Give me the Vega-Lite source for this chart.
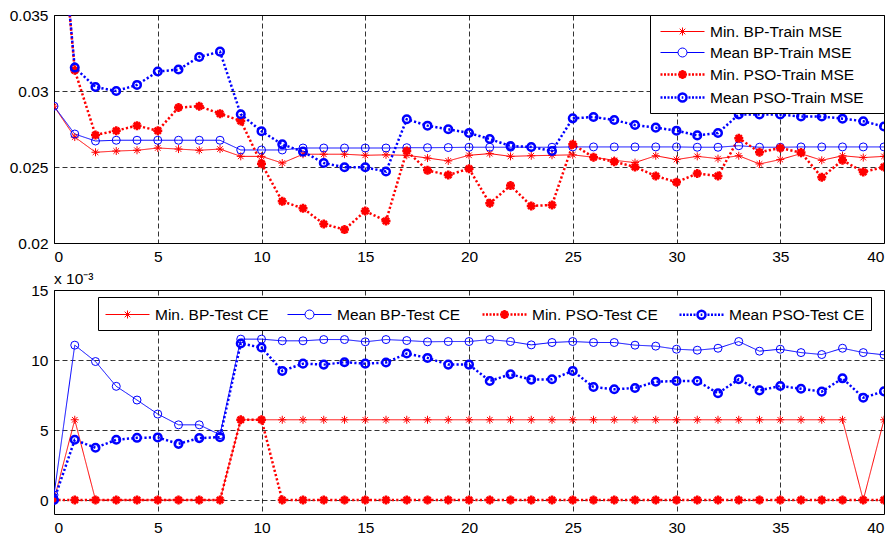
{
 "$schema": "https://vega.github.io/schema/vega-lite/v6.json",
 "background": "white",
 "padding": {"left": 8, "top": 7, "right": 4, "bottom": 4},
 "config": {
  "font": "Liberation Sans",
  "view": {"stroke": "black", "strokeWidth": 1},
  "axis": {"labelFont": "Liberation Sans", "labelFontSize": 15.5, "labelColor": "black", "ticks": false, "domain": false, "grid": true, "gridColor": "black", "gridDash": [5, 3], "gridOpacity": 0.8, "labelPadding": 6, "title": null},
  "legend": {"labelFont": "Liberation Sans", "labelFontSize": 15.5, "labelColor": "black", "labelLimit": 300, "strokeColor": "black", "fillColor": "white", "padding": 6, "rowPadding": 2, "symbolSize": 400, "symbolOffset": 15, "labelOffset": 16, "title": null}
 },
 "datasets": {
  "train": [
   {"epoch":0,"series":"Min. BP-Train MSE","value":0.029},{"epoch":1,"series":"Min. BP-Train MSE","value":0.02697},{"epoch":2,"series":"Min. BP-Train MSE","value":0.02597},{"epoch":3,"series":"Min. BP-Train MSE","value":0.02605},{"epoch":4,"series":"Min. BP-Train MSE","value":0.0261},{"epoch":5,"series":"Min. BP-Train MSE","value":0.02625},{"epoch":6,"series":"Min. BP-Train MSE","value":0.02618},{"epoch":7,"series":"Min. BP-Train MSE","value":0.0261},{"epoch":8,"series":"Min. BP-Train MSE","value":0.02618},{"epoch":9,"series":"Min. BP-Train MSE","value":0.0257},{"epoch":10,"series":"Min. BP-Train MSE","value":0.0257},{"epoch":11,"series":"Min. BP-Train MSE","value":0.02526},{"epoch":12,"series":"Min. BP-Train MSE","value":0.02584},{"epoch":13,"series":"Min. BP-Train MSE","value":0.02584},{"epoch":14,"series":"Min. BP-Train MSE","value":0.02584},{"epoch":15,"series":"Min. BP-Train MSE","value":0.02577},{"epoch":16,"series":"Min. BP-Train MSE","value":0.0258},{"epoch":17,"series":"Min. BP-Train MSE","value":0.02577},{"epoch":18,"series":"Min. BP-Train MSE","value":0.02559},{"epoch":19,"series":"Min. BP-Train MSE","value":0.0254},{"epoch":20,"series":"Min. BP-Train MSE","value":0.02577},{"epoch":21,"series":"Min. BP-Train MSE","value":0.02588},{"epoch":22,"series":"Min. BP-Train MSE","value":0.0257},{"epoch":23,"series":"Min. BP-Train MSE","value":0.02574},{"epoch":24,"series":"Min. BP-Train MSE","value":0.02577},{"epoch":25,"series":"Min. BP-Train MSE","value":0.0258},{"epoch":26,"series":"Min. BP-Train MSE","value":0.02564},{"epoch":27,"series":"Min. BP-Train MSE","value":0.02544},{"epoch":28,"series":"Min. BP-Train MSE","value":0.02529},{"epoch":29,"series":"Min. BP-Train MSE","value":0.02574},{"epoch":30,"series":"Min. BP-Train MSE","value":0.02549},{"epoch":31,"series":"Min. BP-Train MSE","value":0.0257},{"epoch":32,"series":"Min. BP-Train MSE","value":0.02555},{"epoch":33,"series":"Min. BP-Train MSE","value":0.02574},{"epoch":34,"series":"Min. BP-Train MSE","value":0.0252},{"epoch":35,"series":"Min. BP-Train MSE","value":0.02549},{"epoch":36,"series":"Min. BP-Train MSE","value":0.02588},{"epoch":37,"series":"Min. BP-Train MSE","value":0.02544},{"epoch":38,"series":"Min. BP-Train MSE","value":0.02574},{"epoch":39,"series":"Min. BP-Train MSE","value":0.02562},{"epoch":40,"series":"Min. BP-Train MSE","value":0.0257},
   {"epoch":0,"series":"Mean BP-Train MSE","value":0.029},{"epoch":1,"series":"Mean BP-Train MSE","value":0.02717},{"epoch":2,"series":"Mean BP-Train MSE","value":0.02671},{"epoch":3,"series":"Mean BP-Train MSE","value":0.02676},{"epoch":4,"series":"Mean BP-Train MSE","value":0.02676},{"epoch":5,"series":"Mean BP-Train MSE","value":0.02676},{"epoch":6,"series":"Mean BP-Train MSE","value":0.02676},{"epoch":7,"series":"Mean BP-Train MSE","value":0.02676},{"epoch":8,"series":"Mean BP-Train MSE","value":0.02676},{"epoch":9,"series":"Mean BP-Train MSE","value":0.02612},{"epoch":10,"series":"Mean BP-Train MSE","value":0.02612},{"epoch":11,"series":"Mean BP-Train MSE","value":0.02612},{"epoch":12,"series":"Mean BP-Train MSE","value":0.02625},{"epoch":13,"series":"Mean BP-Train MSE","value":0.02625},{"epoch":14,"series":"Mean BP-Train MSE","value":0.02625},{"epoch":15,"series":"Mean BP-Train MSE","value":0.02625},{"epoch":16,"series":"Mean BP-Train MSE","value":0.02625},{"epoch":17,"series":"Mean BP-Train MSE","value":0.02627},{"epoch":18,"series":"Mean BP-Train MSE","value":0.02627},{"epoch":19,"series":"Mean BP-Train MSE","value":0.02628},{"epoch":20,"series":"Mean BP-Train MSE","value":0.0263},{"epoch":21,"series":"Mean BP-Train MSE","value":0.0263},{"epoch":22,"series":"Mean BP-Train MSE","value":0.0263},{"epoch":23,"series":"Mean BP-Train MSE","value":0.0263},{"epoch":24,"series":"Mean BP-Train MSE","value":0.0263},{"epoch":25,"series":"Mean BP-Train MSE","value":0.02632},{"epoch":26,"series":"Mean BP-Train MSE","value":0.02632},{"epoch":27,"series":"Mean BP-Train MSE","value":0.02632},{"epoch":28,"series":"Mean BP-Train MSE","value":0.02632},{"epoch":29,"series":"Mean BP-Train MSE","value":0.02632},{"epoch":30,"series":"Mean BP-Train MSE","value":0.02632},{"epoch":31,"series":"Mean BP-Train MSE","value":0.0263},{"epoch":32,"series":"Mean BP-Train MSE","value":0.0263},{"epoch":33,"series":"Mean BP-Train MSE","value":0.0264},{"epoch":34,"series":"Mean BP-Train MSE","value":0.0263},{"epoch":35,"series":"Mean BP-Train MSE","value":0.0263},{"epoch":36,"series":"Mean BP-Train MSE","value":0.02632},{"epoch":37,"series":"Mean BP-Train MSE","value":0.02632},{"epoch":38,"series":"Mean BP-Train MSE","value":0.02632},{"epoch":39,"series":"Mean BP-Train MSE","value":0.02632},{"epoch":40,"series":"Mean BP-Train MSE","value":0.02632},
   {"epoch":0,"series":"Min. PSO-Train MSE","value":0.0465},{"epoch":1,"series":"Min. PSO-Train MSE","value":0.03136},{"epoch":2,"series":"Min. PSO-Train MSE","value":0.02711},{"epoch":3,"series":"Min. PSO-Train MSE","value":0.02739},{"epoch":4,"series":"Min. PSO-Train MSE","value":0.02772},{"epoch":5,"series":"Min. PSO-Train MSE","value":0.02739},{"epoch":6,"series":"Min. PSO-Train MSE","value":0.02891},{"epoch":7,"series":"Min. PSO-Train MSE","value":0.029},{"epoch":8,"series":"Min. PSO-Train MSE","value":0.02851},{"epoch":9,"series":"Min. PSO-Train MSE","value":0.02803},{"epoch":10,"series":"Min. PSO-Train MSE","value":0.02522},{"epoch":11,"series":"Min. PSO-Train MSE","value":0.02274},{"epoch":12,"series":"Min. PSO-Train MSE","value":0.02228},{"epoch":13,"series":"Min. PSO-Train MSE","value":0.02125},{"epoch":14,"series":"Min. PSO-Train MSE","value":0.02088},{"epoch":15,"series":"Min. PSO-Train MSE","value":0.0221},{"epoch":16,"series":"Min. PSO-Train MSE","value":0.02145},{"epoch":17,"series":"Min. PSO-Train MSE","value":0.02605},{"epoch":18,"series":"Min. PSO-Train MSE","value":0.02478},{"epoch":19,"series":"Min. PSO-Train MSE","value":0.02447},{"epoch":20,"series":"Min. PSO-Train MSE","value":0.02489},{"epoch":21,"series":"Min. PSO-Train MSE","value":0.02261},{"epoch":22,"series":"Min. PSO-Train MSE","value":0.02378},{"epoch":23,"series":"Min. PSO-Train MSE","value":0.02244},{"epoch":24,"series":"Min. PSO-Train MSE","value":0.0225},{"epoch":25,"series":"Min. PSO-Train MSE","value":0.02649},{"epoch":26,"series":"Min. PSO-Train MSE","value":0.02564},{"epoch":27,"series":"Min. PSO-Train MSE","value":0.02535},{"epoch":28,"series":"Min. PSO-Train MSE","value":0.025},{"epoch":29,"series":"Min. PSO-Train MSE","value":0.02441},{"epoch":30,"series":"Min. PSO-Train MSE","value":0.024},{"epoch":31,"series":"Min. PSO-Train MSE","value":0.02457},{"epoch":32,"series":"Min. PSO-Train MSE","value":0.02441},{"epoch":33,"series":"Min. PSO-Train MSE","value":0.02689},{"epoch":34,"series":"Min. PSO-Train MSE","value":0.02597},{"epoch":35,"series":"Min. PSO-Train MSE","value":0.02625},{"epoch":36,"series":"Min. PSO-Train MSE","value":0.02595},{"epoch":37,"series":"Min. PSO-Train MSE","value":0.02432},{"epoch":38,"series":"Min. PSO-Train MSE","value":0.02544},{"epoch":39,"series":"Min. PSO-Train MSE","value":0.02467},{"epoch":40,"series":"Min. PSO-Train MSE","value":0.025},
   {"epoch":0,"series":"Mean PSO-Train MSE","value":0.046},{"epoch":1,"series":"Mean PSO-Train MSE","value":0.03154},{"epoch":2,"series":"Mean PSO-Train MSE","value":0.03026},{"epoch":3,"series":"Mean PSO-Train MSE","value":0.03},{"epoch":4,"series":"Mean PSO-Train MSE","value":0.0304},{"epoch":5,"series":"Mean PSO-Train MSE","value":0.03128},{"epoch":6,"series":"Mean PSO-Train MSE","value":0.03141},{"epoch":7,"series":"Mean PSO-Train MSE","value":0.03224},{"epoch":8,"series":"Mean PSO-Train MSE","value":0.03259},{"epoch":9,"series":"Mean PSO-Train MSE","value":0.02847},{"epoch":10,"series":"Mean PSO-Train MSE","value":0.02735},{"epoch":11,"series":"Mean PSO-Train MSE","value":0.02649},{"epoch":12,"series":"Mean PSO-Train MSE","value":0.02601},{"epoch":13,"series":"Mean PSO-Train MSE","value":0.02526},{"epoch":14,"series":"Mean PSO-Train MSE","value":0.02498},{"epoch":15,"series":"Mean PSO-Train MSE","value":0.02498},{"epoch":16,"series":"Mean PSO-Train MSE","value":0.0247},{"epoch":17,"series":"Mean PSO-Train MSE","value":0.02814},{"epoch":18,"series":"Mean PSO-Train MSE","value":0.02772},{"epoch":19,"series":"Mean PSO-Train MSE","value":0.02748},{"epoch":20,"series":"Mean PSO-Train MSE","value":0.02724},{"epoch":21,"series":"Mean PSO-Train MSE","value":0.02684},{"epoch":22,"series":"Mean PSO-Train MSE","value":0.02638},{"epoch":23,"series":"Mean PSO-Train MSE","value":0.02632},{"epoch":24,"series":"Mean PSO-Train MSE","value":0.02605},{"epoch":25,"series":"Mean PSO-Train MSE","value":0.0282},{"epoch":26,"series":"Mean PSO-Train MSE","value":0.02829},{"epoch":27,"series":"Mean PSO-Train MSE","value":0.02809},{"epoch":28,"series":"Mean PSO-Train MSE","value":0.02776},{"epoch":29,"series":"Mean PSO-Train MSE","value":0.02759},{"epoch":30,"series":"Mean PSO-Train MSE","value":0.02739},{"epoch":31,"series":"Mean PSO-Train MSE","value":0.02708},{"epoch":32,"series":"Mean PSO-Train MSE","value":0.02724},{"epoch":33,"series":"Mean PSO-Train MSE","value":0.02845},{"epoch":34,"series":"Mean PSO-Train MSE","value":0.02845},{"epoch":35,"series":"Mean PSO-Train MSE","value":0.02845},{"epoch":36,"series":"Mean PSO-Train MSE","value":0.02832},{"epoch":37,"series":"Mean PSO-Train MSE","value":0.02832},{"epoch":38,"series":"Mean PSO-Train MSE","value":0.02818},{"epoch":39,"series":"Mean PSO-Train MSE","value":0.02801},{"epoch":40,"series":"Mean PSO-Train MSE","value":0.02766}
  ],
  "test": [
   {"epoch":0,"series":"Min. BP-Test CE","value":0},{"epoch":1,"series":"Min. BP-Test CE","value":0.00573},{"epoch":2,"series":"Min. BP-Test CE","value":0},{"epoch":3,"series":"Min. BP-Test CE","value":0},{"epoch":4,"series":"Min. BP-Test CE","value":0},{"epoch":5,"series":"Min. BP-Test CE","value":0},{"epoch":6,"series":"Min. BP-Test CE","value":0},{"epoch":7,"series":"Min. BP-Test CE","value":0},{"epoch":8,"series":"Min. BP-Test CE","value":0},{"epoch":9,"series":"Min. BP-Test CE","value":0.00573},{"epoch":10,"series":"Min. BP-Test CE","value":0.00573},{"epoch":11,"series":"Min. BP-Test CE","value":0.00573},{"epoch":12,"series":"Min. BP-Test CE","value":0.00573},{"epoch":13,"series":"Min. BP-Test CE","value":0.00573},{"epoch":14,"series":"Min. BP-Test CE","value":0.00573},{"epoch":15,"series":"Min. BP-Test CE","value":0.00573},{"epoch":16,"series":"Min. BP-Test CE","value":0.00573},{"epoch":17,"series":"Min. BP-Test CE","value":0.00573},{"epoch":18,"series":"Min. BP-Test CE","value":0.00573},{"epoch":19,"series":"Min. BP-Test CE","value":0.00573},{"epoch":20,"series":"Min. BP-Test CE","value":0.00573},{"epoch":21,"series":"Min. BP-Test CE","value":0.00573},{"epoch":22,"series":"Min. BP-Test CE","value":0.00573},{"epoch":23,"series":"Min. BP-Test CE","value":0.00573},{"epoch":24,"series":"Min. BP-Test CE","value":0.00573},{"epoch":25,"series":"Min. BP-Test CE","value":0.00573},{"epoch":26,"series":"Min. BP-Test CE","value":0.00573},{"epoch":27,"series":"Min. BP-Test CE","value":0.00573},{"epoch":28,"series":"Min. BP-Test CE","value":0.00573},{"epoch":29,"series":"Min. BP-Test CE","value":0.00573},{"epoch":30,"series":"Min. BP-Test CE","value":0.00573},{"epoch":31,"series":"Min. BP-Test CE","value":0.00573},{"epoch":32,"series":"Min. BP-Test CE","value":0.00573},{"epoch":33,"series":"Min. BP-Test CE","value":0.00573},{"epoch":34,"series":"Min. BP-Test CE","value":0.00573},{"epoch":35,"series":"Min. BP-Test CE","value":0.00573},{"epoch":36,"series":"Min. BP-Test CE","value":0.00573},{"epoch":37,"series":"Min. BP-Test CE","value":0.00573},{"epoch":38,"series":"Min. BP-Test CE","value":0.00573},{"epoch":39,"series":"Min. BP-Test CE","value":0},{"epoch":40,"series":"Min. BP-Test CE","value":0.00573},
   {"epoch":0,"series":"Mean BP-Test CE","value":0.00036},{"epoch":1,"series":"Mean BP-Test CE","value":0.01106},{"epoch":2,"series":"Mean BP-Test CE","value":0.00989},{"epoch":3,"series":"Mean BP-Test CE","value":0.00812},{"epoch":4,"series":"Mean BP-Test CE","value":0.00714},{"epoch":5,"series":"Mean BP-Test CE","value":0.00614},{"epoch":6,"series":"Mean BP-Test CE","value":0.00537},{"epoch":7,"series":"Mean BP-Test CE","value":0.00537},{"epoch":8,"series":"Mean BP-Test CE","value":0.00466},{"epoch":9,"series":"Mean BP-Test CE","value":0.01149},{"epoch":10,"series":"Mean BP-Test CE","value":0.01149},{"epoch":11,"series":"Mean BP-Test CE","value":0.01137},{"epoch":12,"series":"Mean BP-Test CE","value":0.01137},{"epoch":13,"series":"Mean BP-Test CE","value":0.01146},{"epoch":14,"series":"Mean BP-Test CE","value":0.01146},{"epoch":15,"series":"Mean BP-Test CE","value":0.0113},{"epoch":16,"series":"Mean BP-Test CE","value":0.01146},{"epoch":17,"series":"Mean BP-Test CE","value":0.01139},{"epoch":18,"series":"Mean BP-Test CE","value":0.0113},{"epoch":19,"series":"Mean BP-Test CE","value":0.01132},{"epoch":20,"series":"Mean BP-Test CE","value":0.01132},{"epoch":21,"series":"Mean BP-Test CE","value":0.01146},{"epoch":22,"series":"Mean BP-Test CE","value":0.01132},{"epoch":23,"series":"Mean BP-Test CE","value":0.01108},{"epoch":24,"series":"Mean BP-Test CE","value":0.01125},{"epoch":25,"series":"Mean BP-Test CE","value":0.01132},{"epoch":26,"series":"Mean BP-Test CE","value":0.01125},{"epoch":27,"series":"Mean BP-Test CE","value":0.01125},{"epoch":28,"series":"Mean BP-Test CE","value":0.01106},{"epoch":29,"series":"Mean BP-Test CE","value":0.01099},{"epoch":30,"series":"Mean BP-Test CE","value":0.01077},{"epoch":31,"series":"Mean BP-Test CE","value":0.0107},{"epoch":32,"series":"Mean BP-Test CE","value":0.01084},{"epoch":33,"series":"Mean BP-Test CE","value":0.01132},{"epoch":34,"series":"Mean BP-Test CE","value":0.01063},{"epoch":35,"series":"Mean BP-Test CE","value":0.01077},{"epoch":36,"series":"Mean BP-Test CE","value":0.01053},{"epoch":37,"series":"Mean BP-Test CE","value":0.01039},{"epoch":38,"series":"Mean BP-Test CE","value":0.01084},{"epoch":39,"series":"Mean BP-Test CE","value":0.01053},{"epoch":40,"series":"Mean BP-Test CE","value":0.01037},
   {"epoch":0,"series":"Min. PSO-Test CE","value":0},{"epoch":1,"series":"Min. PSO-Test CE","value":0},{"epoch":2,"series":"Min. PSO-Test CE","value":0},{"epoch":3,"series":"Min. PSO-Test CE","value":0},{"epoch":4,"series":"Min. PSO-Test CE","value":0},{"epoch":5,"series":"Min. PSO-Test CE","value":0},{"epoch":6,"series":"Min. PSO-Test CE","value":0},{"epoch":7,"series":"Min. PSO-Test CE","value":0},{"epoch":8,"series":"Min. PSO-Test CE","value":0},{"epoch":9,"series":"Min. PSO-Test CE","value":0.00573},{"epoch":10,"series":"Min. PSO-Test CE","value":0.00573},{"epoch":11,"series":"Min. PSO-Test CE","value":0},{"epoch":12,"series":"Min. PSO-Test CE","value":0},{"epoch":13,"series":"Min. PSO-Test CE","value":0},{"epoch":14,"series":"Min. PSO-Test CE","value":0},{"epoch":15,"series":"Min. PSO-Test CE","value":0},{"epoch":16,"series":"Min. PSO-Test CE","value":0},{"epoch":17,"series":"Min. PSO-Test CE","value":0},{"epoch":18,"series":"Min. PSO-Test CE","value":0},{"epoch":19,"series":"Min. PSO-Test CE","value":0},{"epoch":20,"series":"Min. PSO-Test CE","value":0},{"epoch":21,"series":"Min. PSO-Test CE","value":0},{"epoch":22,"series":"Min. PSO-Test CE","value":0},{"epoch":23,"series":"Min. PSO-Test CE","value":0},{"epoch":24,"series":"Min. PSO-Test CE","value":0},{"epoch":25,"series":"Min. PSO-Test CE","value":0},{"epoch":26,"series":"Min. PSO-Test CE","value":0},{"epoch":27,"series":"Min. PSO-Test CE","value":0},{"epoch":28,"series":"Min. PSO-Test CE","value":0},{"epoch":29,"series":"Min. PSO-Test CE","value":0},{"epoch":30,"series":"Min. PSO-Test CE","value":0},{"epoch":31,"series":"Min. PSO-Test CE","value":0},{"epoch":32,"series":"Min. PSO-Test CE","value":0},{"epoch":33,"series":"Min. PSO-Test CE","value":0},{"epoch":34,"series":"Min. PSO-Test CE","value":0},{"epoch":35,"series":"Min. PSO-Test CE","value":0},{"epoch":36,"series":"Min. PSO-Test CE","value":0},{"epoch":37,"series":"Min. PSO-Test CE","value":0},{"epoch":38,"series":"Min. PSO-Test CE","value":0},{"epoch":39,"series":"Min. PSO-Test CE","value":0},{"epoch":40,"series":"Min. PSO-Test CE","value":0},
   {"epoch":0,"series":"Mean PSO-Test CE","value":0},{"epoch":1,"series":"Mean PSO-Test CE","value":0.0043},{"epoch":2,"series":"Mean PSO-Test CE","value":0.00373},{"epoch":3,"series":"Mean PSO-Test CE","value":0.0043},{"epoch":4,"series":"Mean PSO-Test CE","value":0.00444},{"epoch":5,"series":"Mean PSO-Test CE","value":0.00447},{"epoch":6,"series":"Mean PSO-Test CE","value":0.00401},{"epoch":7,"series":"Mean PSO-Test CE","value":0.00442},{"epoch":8,"series":"Mean PSO-Test CE","value":0.00449},{"epoch":9,"series":"Mean PSO-Test CE","value":0.01118},{"epoch":10,"series":"Mean PSO-Test CE","value":0.01089},{"epoch":11,"series":"Mean PSO-Test CE","value":0.00922},{"epoch":12,"series":"Mean PSO-Test CE","value":0.00974},{"epoch":13,"series":"Mean PSO-Test CE","value":0.00967},{"epoch":14,"series":"Mean PSO-Test CE","value":0.00984},{"epoch":15,"series":"Mean PSO-Test CE","value":0.00974},{"epoch":16,"series":"Mean PSO-Test CE","value":0.00982},{"epoch":17,"series":"Mean PSO-Test CE","value":0.01046},{"epoch":18,"series":"Mean PSO-Test CE","value":0.01015},{"epoch":19,"series":"Mean PSO-Test CE","value":0.00967},{"epoch":20,"series":"Mean PSO-Test CE","value":0.00967},{"epoch":21,"series":"Mean PSO-Test CE","value":0.0085},{"epoch":22,"series":"Mean PSO-Test CE","value":0.00898},{"epoch":23,"series":"Mean PSO-Test CE","value":0.0086},{"epoch":24,"series":"Mean PSO-Test CE","value":0.00862},{"epoch":25,"series":"Mean PSO-Test CE","value":0.00922},{"epoch":26,"series":"Mean PSO-Test CE","value":0.00807},{"epoch":27,"series":"Mean PSO-Test CE","value":0.00791},{"epoch":28,"series":"Mean PSO-Test CE","value":0.008},{"epoch":29,"series":"Mean PSO-Test CE","value":0.00845},{"epoch":30,"series":"Mean PSO-Test CE","value":0.0085},{"epoch":31,"series":"Mean PSO-Test CE","value":0.0085},{"epoch":32,"series":"Mean PSO-Test CE","value":0.00762},{"epoch":33,"series":"Mean PSO-Test CE","value":0.00862},{"epoch":34,"series":"Mean PSO-Test CE","value":0.00783},{"epoch":35,"series":"Mean PSO-Test CE","value":0.00814},{"epoch":36,"series":"Mean PSO-Test CE","value":0.00795},{"epoch":37,"series":"Mean PSO-Test CE","value":0.00774},{"epoch":38,"series":"Mean PSO-Test CE","value":0.00869},{"epoch":39,"series":"Mean PSO-Test CE","value":0.00731},{"epoch":40,"series":"Mean PSO-Test CE","value":0.00776}
  ]
 },
 "bounds": "flush",
 "spacing": 47,
 "vconcat": [
  {
   "width": 830,
   "height": 228,
   "data": {"name": "train"},
   "resolve": {"scale": {"color": "independent", "shape": "independent", "strokeWidth": "independent", "strokeDash": "independent", "size": "independent"}},
   "encoding": {
    "x": {"field": "epoch", "type": "quantitative", "scale": {"domain": [0, 40], "nice": false}, "axis": {"values": [0, 5, 10, 15, 20, 25, 30, 35, 40], "format": "d"}},
    "y": {"field": "value", "type": "quantitative", "scale": {"domain": [0.02, 0.035], "nice": false, "zero": false}, "axis": {"values": [0.02, 0.025, 0.03, 0.035], "format": "~g"}}
   },
   "layer": [
    {
     "mark": {"type": "line", "clip": true, "strokeCap": "butt"},
     "encoding": {
      "color": {"field": "series", "type": "nominal", "scale": {"domain": ["Min. BP-Train MSE", "Mean BP-Train MSE", "Min. PSO-Train MSE", "Mean PSO-Train MSE"], "range": ["#ff0000", "#0000ff", "#ff0000", "#0000ff"]}, "legend": null},
      "strokeDash": {"field": "series", "type": "nominal", "scale": {"type": "ordinal", "domain": ["Min. BP-Train MSE", "Mean BP-Train MSE", "Min. PSO-Train MSE", "Mean PSO-Train MSE"], "range": [[1, 0], [1, 0], [2.2, 2.2], [2.2, 2.2]]}, "legend": null},
      "strokeWidth": {"field": "series", "type": "nominal", "scale": {"type": "ordinal", "domain": ["Min. BP-Train MSE", "Mean BP-Train MSE", "Min. PSO-Train MSE", "Mean PSO-Train MSE"], "range": [1, 1, 2.5, 2.5]}, "legend": null}
     }
    },
    {
     "mark": {"type": "point", "clip": true, "filled": false, "opacity": 1},
     "encoding": {
      "color": {"field": "series", "type": "nominal", "scale": {"domain": ["Min. BP-Train MSE", "Mean BP-Train MSE", "Min. PSO-Train MSE", "Mean PSO-Train MSE"], "range": ["#ff0000", "#0000ff", "#ff0000", "#0000ff"]}, "legend": null},
      "shape": {"field": "series", "type": "nominal", "scale": {"domain": ["Min. BP-Train MSE", "Mean BP-Train MSE", "Min. PSO-Train MSE", "Mean PSO-Train MSE"], "range": ["M0,-1L0,1M-1,0L1,0M-0.7,-0.7L0.7,0.7M-0.7,0.7L0.7,-0.7", "circle", "M0,-1L0,1M-1,0L1,0M-0.7,-0.7L0.7,0.7M-0.7,0.7L0.7,-0.7", "circle"]}, "legend": null},
      "size": {"field": "series", "type": "nominal", "scale": {"type": "ordinal", "domain": ["Min. BP-Train MSE", "Mean BP-Train MSE", "Min. PSO-Train MSE", "Mean PSO-Train MSE"], "range": [64, 64, 81, 57]}, "legend": null},
      "strokeWidth": {"field": "series", "type": "nominal", "scale": {"type": "ordinal", "domain": ["Min. BP-Train MSE", "Mean BP-Train MSE", "Min. PSO-Train MSE", "Mean PSO-Train MSE"], "range": [1, 1, 2.5, 2.5]}, "legend": null}
     }
    },
    {
     "transform": [{"filter": "false"}],
     "mark": {"type": "point", "filled": false, "opacity": 1},
     "encoding": {
      "color": {"field": "series", "type": "nominal", "scale": {"domain": ["Min. BP-Train MSE", "Mean BP-Train MSE", "Min. PSO-Train MSE", "Mean PSO-Train MSE"], "range": ["#ff0000", "#0000ff", "#ff0000", "#0000ff"]}, "legend": {"orient": "top-right", "offset": 0, "title": null}},
      "shape": {"field": "series", "type": "nominal", "scale": {"domain": ["Min. BP-Train MSE", "Mean BP-Train MSE", "Min. PSO-Train MSE", "Mean PSO-Train MSE"], "range": [
        "M-2.2,0L2.2,0M0,-0.4L0,0.4M-0.4,0L0.4,0M-0.28,-0.28L0.28,0.28M-0.28,0.28L0.28,-0.28M19,0",
        "M-2.2,0L-0.45,0M0.45,0L2.2,0M-0.45,0A0.45,0.45,0,1,0,0.45,0A0.45,0.45,0,1,0,-0.45,0M19,0",
        "M-2.2,0L-2,0M-1.85,0L-1.65,0M-1.5,0L-1.3,0M-1.15,0L-0.95,0M-0.8,0L-0.6,0M0,-0.45L0,0.45M-0.45,0L0.45,0M-0.32,-0.32L0.32,0.32M-0.32,0.32L0.32,-0.32M0.6,0L0.8,0M0.95,0L1.15,0M1.3,0L1.5,0M1.65,0L1.85,0M2,0L2.2,0M19,0",
        "M-2.2,0L-2,0M-1.85,0L-1.65,0M-1.5,0L-1.3,0M-1.15,0L-0.95,0M-0.8,0L-0.6,0M-0.4,0A0.4,0.4,0,1,0,0.4,0A0.4,0.4,0,1,0,-0.4,0M-0.08,0L0.08,0M0.6,0L0.8,0M0.95,0L1.15,0M1.3,0L1.5,0M1.65,0L1.85,0M2,0L2.2,0M19,0"
      ]}, "legend": {"orient": "top-right", "offset": 0, "title": null}},
      "strokeWidth": {"field": "series", "type": "nominal", "scale": {"type": "ordinal", "domain": ["Min. BP-Train MSE", "Mean BP-Train MSE", "Min. PSO-Train MSE", "Mean PSO-Train MSE"], "range": [1, 1, 2.5, 2.5]}, "legend": {"orient": "top-right", "offset": 0, "title": null}}
     }
    }
   ]
  },
  {
   "width": 830,
   "height": 224,
   "data": {"name": "test"},
   "title": {"text": "x 10⁻³", "anchor": "start", "frame": "group", "fontSize": 15.5, "fontWeight": "normal", "font": "Liberation Sans", "color": "black", "offset": -4},
   "resolve": {"scale": {"color": "independent", "shape": "independent", "strokeWidth": "independent", "strokeDash": "independent", "size": "independent"}},
   "encoding": {
    "x": {"field": "epoch", "type": "quantitative", "scale": {"domain": [0, 40], "nice": false}, "axis": {"values": [0, 5, 10, 15, 20, 25, 30, 35, 40], "format": "d"}},
    "y": {"field": "value", "type": "quantitative", "scale": {"domain": [-0.001, 0.015], "nice": false, "zero": false}, "axis": {"values": [0, 0.005, 0.01, 0.015], "labelExpr": "format(datum.value * 1000, '.0f')"}}
   },
   "layer": [
    {
     "mark": {"type": "line", "clip": true, "strokeCap": "butt"},
     "encoding": {
      "color": {"field": "series", "type": "nominal", "scale": {"domain": ["Min. BP-Test CE", "Mean BP-Test CE", "Min. PSO-Test CE", "Mean PSO-Test CE"], "range": ["#ff0000", "#0000ff", "#ff0000", "#0000ff"]}, "legend": null},
      "strokeDash": {"field": "series", "type": "nominal", "scale": {"type": "ordinal", "domain": ["Min. BP-Test CE", "Mean BP-Test CE", "Min. PSO-Test CE", "Mean PSO-Test CE"], "range": [[1, 0], [1, 0], [2.2, 2.2], [2.2, 2.2]]}, "legend": null},
      "strokeWidth": {"field": "series", "type": "nominal", "scale": {"type": "ordinal", "domain": ["Min. BP-Test CE", "Mean BP-Test CE", "Min. PSO-Test CE", "Mean PSO-Test CE"], "range": [1, 1, 2.5, 2.5]}, "legend": null}
     }
    },
    {
     "mark": {"type": "point", "clip": true, "filled": false, "opacity": 1},
     "encoding": {
      "color": {"field": "series", "type": "nominal", "scale": {"domain": ["Min. BP-Test CE", "Mean BP-Test CE", "Min. PSO-Test CE", "Mean PSO-Test CE"], "range": ["#ff0000", "#0000ff", "#ff0000", "#0000ff"]}, "legend": null},
      "shape": {"field": "series", "type": "nominal", "scale": {"domain": ["Min. BP-Test CE", "Mean BP-Test CE", "Min. PSO-Test CE", "Mean PSO-Test CE"], "range": ["M0,-1L0,1M-1,0L1,0M-0.7,-0.7L0.7,0.7M-0.7,0.7L0.7,-0.7", "circle", "M0,-1L0,1M-1,0L1,0M-0.7,-0.7L0.7,0.7M-0.7,0.7L0.7,-0.7", "circle"]}, "legend": null},
      "size": {"field": "series", "type": "nominal", "scale": {"type": "ordinal", "domain": ["Min. BP-Test CE", "Mean BP-Test CE", "Min. PSO-Test CE", "Mean PSO-Test CE"], "range": [64, 64, 81, 57]}, "legend": null},
      "strokeWidth": {"field": "series", "type": "nominal", "scale": {"type": "ordinal", "domain": ["Min. BP-Test CE", "Mean BP-Test CE", "Min. PSO-Test CE", "Mean PSO-Test CE"], "range": [1, 1, 2.5, 2.5]}, "legend": null}
     }
    },
    {
     "transform": [{"filter": "false"}],
     "mark": {"type": "point", "filled": false, "opacity": 1},
     "encoding": {
      "color": {"field": "series", "type": "nominal", "scale": {"domain": ["Min. BP-Test CE", "Mean BP-Test CE", "Min. PSO-Test CE", "Mean PSO-Test CE"], "range": ["#ff0000", "#0000ff", "#ff0000", "#0000ff"]}, "legend": {"orient": "none", "legendX": 44, "legendY": 7, "direction": "horizontal", "columns": 4, "columnPadding": 16, "padding": 6, "symbolOffset": 12, "title": null}},
      "shape": {"field": "series", "type": "nominal", "scale": {"domain": ["Min. BP-Test CE", "Mean BP-Test CE", "Min. PSO-Test CE", "Mean PSO-Test CE"], "range": [
        "M-2.2,0L2.2,0M0,-0.4L0,0.4M-0.4,0L0.4,0M-0.28,-0.28L0.28,0.28M-0.28,0.28L0.28,-0.28",
        "M-2.2,0L-0.45,0M0.45,0L2.2,0M-0.45,0A0.45,0.45,0,1,0,0.45,0A0.45,0.45,0,1,0,-0.45,0",
        "M-2.2,0L-2,0M-1.85,0L-1.65,0M-1.5,0L-1.3,0M-1.15,0L-0.95,0M-0.8,0L-0.6,0M0,-0.45L0,0.45M-0.45,0L0.45,0M-0.32,-0.32L0.32,0.32M-0.32,0.32L0.32,-0.32M0.6,0L0.8,0M0.95,0L1.15,0M1.3,0L1.5,0M1.65,0L1.85,0M2,0L2.2,0",
        "M-2.2,0L-2,0M-1.85,0L-1.65,0M-1.5,0L-1.3,0M-1.15,0L-0.95,0M-0.8,0L-0.6,0M-0.4,0A0.4,0.4,0,1,0,0.4,0A0.4,0.4,0,1,0,-0.4,0M-0.08,0L0.08,0M0.6,0L0.8,0M0.95,0L1.15,0M1.3,0L1.5,0M1.65,0L1.85,0M2,0L2.2,0"
      ]}, "legend": {"orient": "none", "legendX": 44, "legendY": 7, "direction": "horizontal", "columns": 4, "columnPadding": 16, "padding": 6, "symbolOffset": 12, "title": null}},
      "strokeWidth": {"field": "series", "type": "nominal", "scale": {"type": "ordinal", "domain": ["Min. BP-Test CE", "Mean BP-Test CE", "Min. PSO-Test CE", "Mean PSO-Test CE"], "range": [1, 1, 2.5, 2.5]}, "legend": {"orient": "none", "legendX": 44, "legendY": 7, "direction": "horizontal", "columns": 4, "columnPadding": 16, "padding": 6, "symbolOffset": 12, "title": null}}
     }
    }
   ]
  }
 ]
}
